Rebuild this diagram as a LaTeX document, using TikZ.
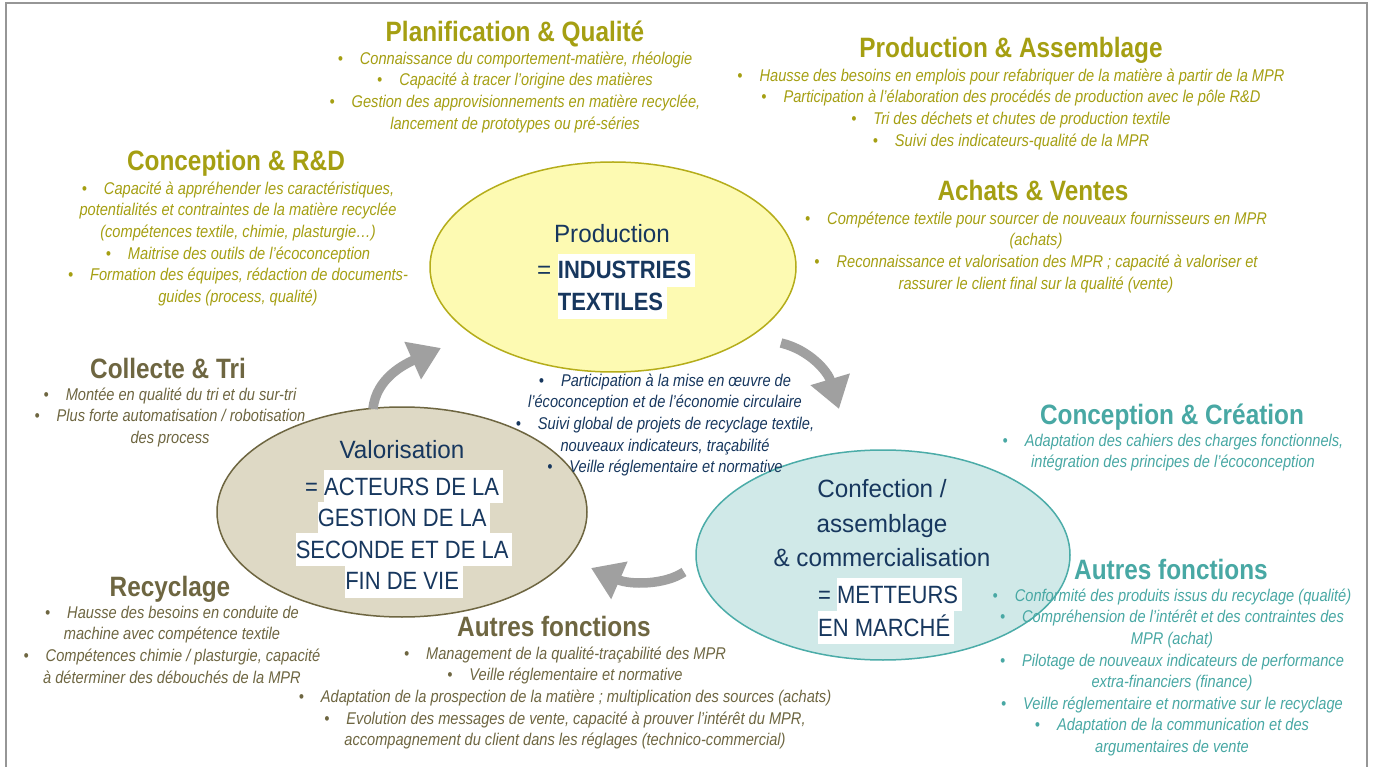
\documentclass[tikz,border=0pt]{standalone}
\usepackage{fontspec}
\setmainfont{Liberation Sans}
\newfontfamily\narf{Liberation Sans}[FakeStretch=0.86]
\newfontfamily\hdf{Liberation Sans}[FakeStretch=0.87]
\newfontfamily\ellf{Liberation Sans}[FakeStretch=0.97]
\newfontfamily\ellc{Liberation Sans}[FakeStretch=0.88]
\usetikzlibrary{shapes.geometric,arrows.meta}
\definecolor{olivec}{RGB}{165,159,18}
\definecolor{brownc}{RGB}{110,102,65}
\definecolor{tealc}{RGB}{72,168,164}
\definecolor{navyc}{RGB}{23,55,94}
\definecolor{arrowc}{RGB}{160,160,160}
\definecolor{framec}{RGB}{150,150,150}
\definecolor{prodfill}{RGB}{253,250,178}
\definecolor{prodline}{RGB}{181,173,26}
\definecolor{valofill}{RGB}{222,217,197}
\definecolor{valoline}{RGB}{110,102,65}
\definecolor{conffill}{RGB}{208,233,232}
\definecolor{confline}{RGB}{75,172,168}
\newcommand\hlw[1]{{\setlength{\fboxsep}{0pt}\colorbox{white}{\rule[-0.32em]{0pt}{1.32em}#1\hspace{0.15em}}}}
\newcommand\bp{•\hspace{1.0em}}
\newcommand\fstr{\rule{0pt}{0.95em}}
\tikzset{
  bul/.style={align=center, inner sep=0pt, anchor=north, font=\narf\itshape\fontsize{17}{21.6}\selectfont},
  hd/.style={anchor=base, inner sep=0pt, font=\hdf\bfseries\fontsize{28}{30}\selectfont},
  elltx/.style={inner sep=0pt, text=navyc, font=\ellf\fontsize{25}{32}\selectfont},
  bigell/.style={ellipse, line width=1.5pt, inner sep=0pt, minimum height=210pt},
  garrow/.style={draw=arrowc, line width=9.5pt, -{Triangle[length=31pt,width=39pt]}}
}
\begin{document}
\begin{tikzpicture}[x=1pt,y=-1pt]
\useasboundingbox (0,0) rectangle (1374,767);
\fill[white] (0,0) rectangle (1374,767);
\draw[framec, line width=2.5pt] (6,770) -- (6,3) -- (1367,3) -- (1367,770);

% ellipses
\node[bigell, fill=prodfill, draw=prodline, minimum width=366pt] (prod) at (613,267) {};
\node[bigell, fill=valofill, draw=valoline, minimum width=370pt] (valo) at (402,512) {};
\node[bigell, fill=conffill, draw=confline, minimum width=374pt] (conf) at (883,555) {};

% arrows
\coordinate (a1s) at (373,409);
\coordinate (a1e) at (441,348);
\coordinate (a2s) at (781,343);
\coordinate (a2e) at (839,409);
\coordinate (a3s) at (684,572);
\coordinate (a3e) at (591,568);
\draw[garrow] (a1s) .. controls (376,378) and (405,364) .. (a1e);
\draw[garrow] (a2s) .. controls (810,350) and (828,372) .. (a2e);
\draw[garrow] (a3s) .. controls (665,585) and (630,585) .. (a3e);

% ellipse texts
\node[elltx, anchor=base] (prodt1) at (612,243) {Production};
\node[elltx, anchor=base] (prodt2) at (616,279) {\begin{tabular}[t]{@{}l@{}}= {\ellc\hlw{\bfseries INDUSTRIES}}\\[-2.6pt] \phantom{= }{\ellc\hlw{\bfseries TEXTILES}}\end{tabular}};

\node[elltx, anchor=base] (valt1) at (402,458) {Valorisation};
\node[elltx, anchor=base] (valt2) at (404,495) {\ellc\begin{tabular}[t]{@{}c@{}}= \hlw{ACTEURS DE LA}\\[-3pt] \hlw{GESTION DE LA}\\[-3pt] \hlw{SECONDE ET DE LA}\\[-3pt] \hlw{FIN DE VIE}\end{tabular}};

\node[elltx, anchor=base] (cft1) at (882,497) {\begin{tabular}[t]{@{}c@{}}Confection /\\[3pt] assemblage\\[2pt] \& commercialisation\end{tabular}};
\node[elltx, anchor=base west] (cft2) at (818,603) {\ellc\begin{tabular}[t]{@{}l@{}}= \hlw{METTEURS}\\[-1.6pt] \hlw{EN MARCHÉ}\end{tabular}};

% headings
\node[hd, text=olivec] (hpq) at (515,42) {Planification \& Qualité};
\node[hd, text=olivec] (hpa) at (1011,58) {Production \& Assemblage};
\node[hd, text=olivec] (hcrd) at (236,171) {Conception \& R\&D};
\node[hd, text=olivec] (hav) at (1033,201) {Achats \& Ventes};
\node[hd, text=brownc] (hct) at (168,378) {Collecte \& Tri};
\node[hd, text=brownc] (hrec) at (170,596) {Recyclage};
\node[hd, text=brownc] (hafb) at (554,636) {Autres fonctions};
\node[hd, text=tealc] (hcc) at (1172,424) {Conception \& Création};
\node[hd, text=tealc] (hafr) at (1171,579) {Autres fonctions};

% bullet blocks
\node[bul, text=olivec] (bpq) at (515,48) {\fstr\bp Connaissance du comportement-matière, rhéologie\\
\bp Capacité à tracer l’origine des matières\\
\bp Gestion des approvisionnements en matière recyclée,\\
lancement de prototypes ou pré-séries};

\node[bul, text=olivec] (bpa) at (1011,65) {\fstr\bp Hausse des besoins en emplois pour refabriquer de la matière à partir de la MPR\\
\bp Participation à l’élaboration des procédés de production avec le pôle R\&D\\
\bp Tri des déchets et chutes de production textile\\
\bp Suivi des indicateurs-qualité de la MPR};

\node[bul, text=olivec] (bav) at (1036,208) {\fstr\bp Compétence textile pour sourcer de nouveaux fournisseurs en MPR\\
(achats)\\
\bp Reconnaissance et valorisation des MPR ; capacité à valoriser et\\
rassurer le client final sur la qualité (vente)};

\node[bul, text=olivec] (bcrd) at (238,178) {\fstr\bp Capacité à appréhender les caractéristiques,\\
potentialités et contraintes de la matière recyclée\\
(compétences textile, chimie, plasturgie…)\\
\bp Maitrise des outils de l’écoconception\\
\bp Formation des équipes, rédaction de documents-\\
guides (process, qualité)};

\node[bul, text=brownc] (bct) at (170,384) {\fstr\bp Montée en qualité du tri et du sur-tri\\
\bp Plus forte automatisation / robotisation\\
des process};

\node[bul, text=brownc] (brec) at (172,602) {\fstr\bp Hausse des besoins en conduite de\\
machine avec compétence textile\\
\bp Compétences chimie / plasturgie, capacité\\
à déterminer des débouchés de la MPR};

\node[bul, text=brownc] (bafb) at (565,643) {\fstr\bp Management de la qualité-traçabilité des MPR\\
\bp Veille réglementaire et normative\\
\bp Adaptation de la prospection de la matière ; multiplication des sources (achats)\\
\bp Evolution des messages de vente, capacité à prouver l’intérêt du MPR,\\
accompagnement du client dans les réglages (technico-commercial)};

\node[bul, text=navyc] (bctr) at (665,370) {\fstr\bp Participation à la mise en œuvre de\\
l’écoconception et de l’économie circulaire\\
\bp Suivi global de projets de recyclage textile,\\
nouveaux indicateurs, traçabilité\\
\bp Veille réglementaire et normative};

\node[bul, text=tealc] (bcc) at (1173,430) {\fstr\bp Adaptation des cahiers des charges fonctionnels,\\
intégration des principes de l’écoconception};

\node[bul, text=tealc] (bafr) at (1172,585) {\fstr\bp Conformité des produits issus du recyclage (qualité)\\
\bp Compréhension de l’intérêt et des contraintes des\\
MPR (achat)\\
\bp Pilotage de nouveaux indicateurs de performance\\
extra-financiers (finance)\\
\bp Veille réglementaire et normative sur le recyclage\\
\bp Adaptation de la communication et des\\
argumentaires de vente};
\end{tikzpicture}
\end{document}
